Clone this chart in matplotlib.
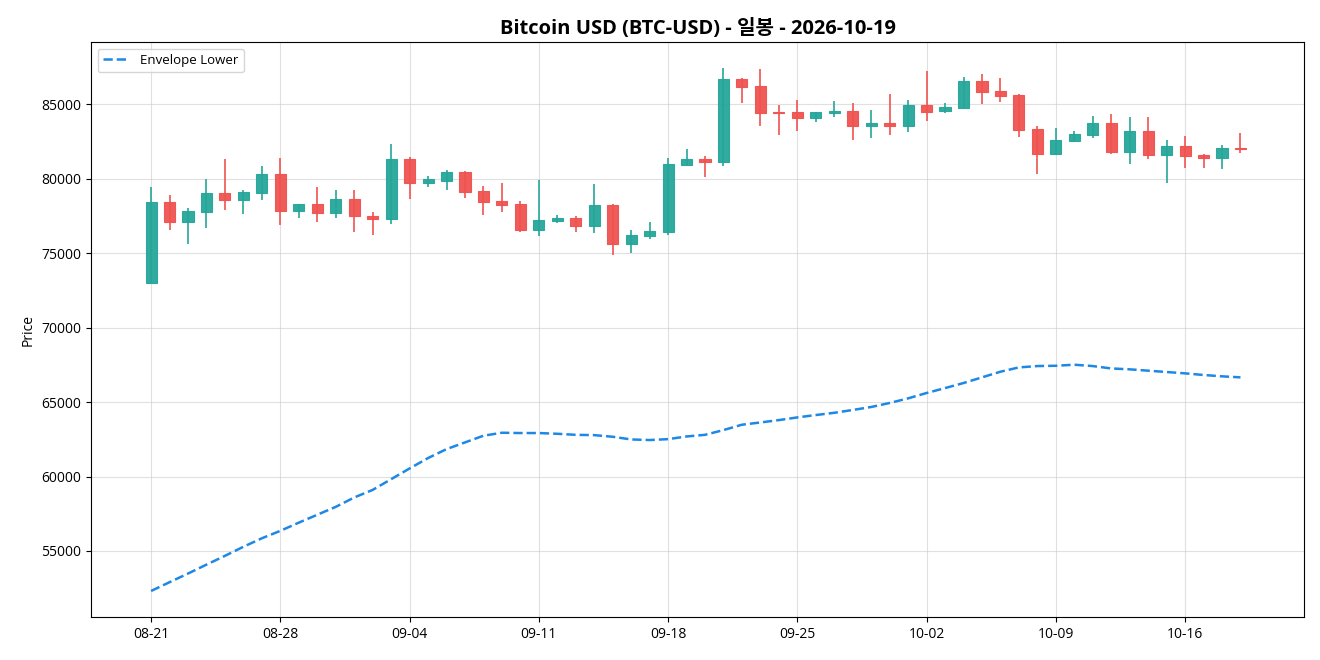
import matplotlib
matplotlib.use("Agg")
import matplotlib.pyplot as plt
import matplotlib.dates as mdates
import numpy as np
import pandas as pd

plt.rcParams['font.family'] = ['Open Sans', 'Noto Sans CJK KR', 'DejaVu Sans']

# daily OHLC, 2026-08-21 .. 2026-10-19
dates = pd.date_range("2026-08-21", "2026-10-19", freq="D")
opens = [73000, 78450, 77110, 77780, 79060, 78590, 79060, 80310, 77850, 78320,
         77720, 78660, 77510, 77310, 81350, 79730, 79870, 80470, 79200, 78520,
         78320, 76570, 77180, 77380, 76840, 78250, 75630, 76170, 76410, 80940,
         81350, 81150, 86730, 86260, 84500, 84510, 84100, 84440, 84580, 83570,
         83720, 83570, 84980, 84580, 84780, 86590, 85920, 85650, 83370, 81680,
         82560, 82960, 83770, 81820, 83230, 81620, 82220, 81620, 81420, 82090]
highs = [79480, 78880, 78070, 80020, 81300, 79280, 80830, 81370, 78340, 79420,
         79280, 79220, 77800, 82310, 81480, 80220, 80560, 80500, 79490, 79750,
         78540, 79890, 77560, 77490, 79620, 78280, 76530, 77130, 81370, 81970,
         81500, 87420, 86760, 87350, 84930, 85270, 84520, 85200, 85070, 84600,
         85670, 85270, 87220, 85090, 86820, 87020, 86750, 85680, 83520, 83430,
         83180, 84190, 84350, 84130, 84130, 82580, 82850, 81680, 82240, 83070]
lows = [73000, 76550, 75600, 76680, 77890, 77620, 78560, 76880, 77350, 77080,
        77350, 76410, 76210, 76950, 78630, 79420, 79280, 78680, 77600, 77740,
        76460, 76140, 77020, 76460, 76340, 74910, 75000, 75940, 76210, 80830,
        80110, 80830, 85090, 83540, 82940, 83200, 83810, 84150, 82600, 82730,
        82940, 83140, 83880, 84440, 84730, 85050, 85130, 82800, 80310, 81590,
        82470, 82730, 81660, 80980, 81320, 79710, 80720, 80720, 80650, 81730]
closes = [78430, 77110, 77850, 79060, 78590, 79130, 80310, 77850, 78290, 77720,
          78660, 77470, 77310, 81350, 79730, 79960, 80470, 79130, 78460, 78250,
          76570, 77250, 77380, 76840, 78250, 75630, 76240, 76500, 81010, 81350,
          81150, 86730, 86190, 84440, 84420, 84100, 84510, 84580, 83570, 83720,
          83570, 84980, 84510, 84850, 86590, 85850, 85590, 83300, 81680, 82630,
          83030, 83770, 81820, 83230, 81620, 82220, 81550, 81420, 82090, 81990]
env_lower = [52310, 52900, 53480, 54080, 54670, 55280, 55850, 56350, 56900, 57430,
             57960, 58590, 59100, 59820, 60540, 61240, 61840, 62290, 62740, 62940,
             62920, 62920, 62870, 62800, 62780, 62670, 62490, 62450, 62510, 62690,
             62800, 63120, 63480, 63630, 63790, 63970, 64130, 64280, 64470, 64670,
             64940, 65250, 65610, 65940, 66280, 66660, 67040, 67330, 67420, 67440,
             67510, 67420, 67260, 67200, 67110, 67020, 66930, 66820, 66730, 66660]

up_color = '#26a69a'
down_color = '#ef5350'

x = mdates.date2num(dates)
o = np.array(opens)
h = np.array(highs)
l = np.array(lows)
c = np.array(closes)
colors = [up_color if cc >= oo else down_color for oo, cc in zip(o, c)]

fig, ax = plt.subplots(figsize=(13.2, 6.6), dpi=100)
fig.subplots_adjust(left=0.069, right=0.988, top=0.936, bottom=0.065)

# wicks
ax.vlines(x, l, h, colors=colors, linewidth=1.2, zorder=2)
# bodies
body_low = np.minimum(o, c)
body_h = np.maximum(np.abs(c - o), 60)
ax.bar(x, body_h, bottom=body_low, width=0.6, color=colors,
       edgecolor=colors, linewidth=0.8, alpha=0.95, zorder=3)

ax.plot(x, env_lower, color='#1e88e5', linestyle='--', linewidth=1.8,
        label='Envelope Lower', zorder=4)

ax.set_title('Bitcoin USD (BTC-USD) - 일봉 - 2026-10-19', fontsize=14.5, fontweight='bold')
ax.set_ylabel('Price', fontsize=10)
ax.set_xticks(x[::7])
ax.xaxis.set_major_formatter(mdates.DateFormatter('%m-%d'))
ax.set_xlim(x[0] - 3.25, x[-1] + 3.45)
ax.grid(True, color='#cccccc', alpha=0.6, linewidth=0.8)
ax.set_axisbelow(True)
ax.tick_params(labelsize=10)
ax.legend(loc='upper left', fontsize=9.5)

fig.savefig('out.png', dpi=100)
